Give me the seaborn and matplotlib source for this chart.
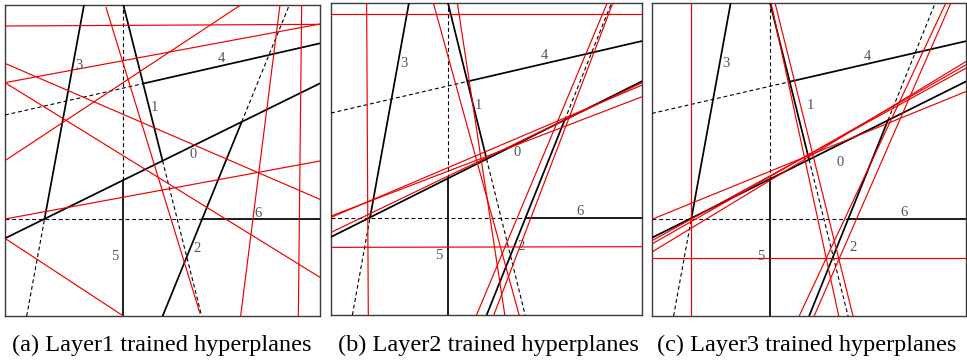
import numpy as np
import pandas as pd
import matplotlib
matplotlib.use("Agg")
import matplotlib.pyplot as plt
import seaborn as sns

# ---------------- data ----------------
captions = ["(a) Layer1 trained hyperplanes",
            "(b) Layer2 trained hyperplanes",
            "(c) Layer3 trained hyperplanes"]

# reference (black) hyperplanes in the normalised input square
ref_ids = ["0", "1", "2", "3", "4", "5", "6"]
ref_x0 = [0.0, 0.3757, 0.5005, 0.0688, 0.0, 0.3757, 0.0]
ref_y0 = [0.2497, 1.0, 0.0, 0.0, 0.6463, 0.0, 0.3108]
ref_x1 = [1.0, 0.6243, 0.9026, 0.2508, 1.0, 0.3757, 1.0]
ref_y1 = [0.7481, 0.0, 1.0, 1.0, 0.8767, 1.0, 0.3108]
ref_cut = [None, 0, 0, 6, 1, 0, 2]          # hyperplane that ends the active part
ref_active = ["all", "start", "start", "end", "end", "start", "end"]

# label positions per panel
lab_x = [[0.598, 0.473, 0.611, 0.235, 0.686, 0.347, 0.802],
         [0.598, 0.473, 0.611, 0.235, 0.686, 0.347, 0.802],
         [0.598, 0.505, 0.640, 0.235, 0.686, 0.347, 0.802]]
lab_y = [[0.520, 0.671, 0.218, 0.804, 0.829, 0.191, 0.330],
         [0.520, 0.671, 0.218, 0.804, 0.829, 0.191, 0.330],
         [0.491, 0.671, 0.218, 0.804, 0.829, 0.191, 0.330]]

# trained (red) hyperplanes, per layer
l1_x0 = [0.0, 0.0, 0.0, 0.0, 0.0, 0.0, 0.0, 0.3206, 0.873, 0.9418]
l1_y0 = [0.9325, 0.7503, 0.4995, 0.8124, 0.7503, 0.3119, 0.2497, 0.9925, 1.0, 1.0]
l1_x1 = [1.0, 1.0, 0.7481, 1.0, 1.0, 1.0, 0.3757, 0.6190, 0.7481, 0.9312]
l1_y1 = [0.9378, 0.9389, 1.0, 0.3751, 0.1243, 0.4984, 0.0, 0.0086, 0.0, 0.0]

l2_x0 = [-0.01, 0.0, 0.1146, 0.0, 0.0, -0.0064, 0.3287, 0.4069, 0.4679, 0.5236]
l2_y0 = [0.9648, 0.2164, 1.0, 0.3166, 0.3124, 0.2612, 1.0, 0.9947, 0.0, 0.0]
l2_x1 = [1.01, 1.0, 0.1199, 1.0, 1.0, 1.0, 0.6049, 0.5589, 0.8887, 0.9069]
l2_y1 = [0.9648, 0.2186, 0.0, 0.6983, 0.7356, 0.7431, 0.0, 0.0, 1.0, 1.0]

l3_x0 = [0.1249, 0.0, 0.3788, 0.3915, 0.4688, 0.5164, 0.0, 0.0, 0.0, 0.0]
l3_y0 = [1.0, 0.1862, 1.0, 1.0, 0.0, 0.0, 0.3085, 0.2043, 0.2298, 0.2404]
l3_x1 = [0.1249, 1.0, 0.5947, 0.6402, 0.9365, 0.9524, 1.0, 1.0, 1.0, 1.0]
l3_y1 = [0.0, 0.1862, 0.0, 0.0, 1.0, 1.0, 0.7160, 0.8117, 0.8011, 0.7904]

red_sets = [(l1_x0, l1_y0, l1_x1, l1_y1),
            (l2_x0, l2_y0, l2_x1, l2_y1),
            (l3_x0, l3_y0, l3_x1, l3_y1)]

# ---------------- helpers ----------------
def cut_param(i, j):
    p0 = np.array([ref_x0[i], ref_y0[i]]); p1 = np.array([ref_x1[i], ref_y1[i]])
    q0 = np.array([ref_x0[j], ref_y0[j]]); q1 = np.array([ref_x1[j], ref_y1[j]])
    d = p1 - p0; e = q1 - q0
    A = np.array([[d[0], -e[0]], [d[1], -e[1]]])
    t, s = np.linalg.solve(A, q0 - p0)
    return t

def segments_for(i):
    p0 = np.array([ref_x0[i], ref_y0[i]]); p1 = np.array([ref_x1[i], ref_y1[i]])
    if ref_cut[i] is None:
        return [(p0, p1, "solid")]
    t = cut_param(i, ref_cut[i])
    pm = p0 + t * (p1 - p0)
    if ref_active[i] == "start":
        return [(p0, pm, "solid"), (pm, p1, "dashed")]
    return [(p0, pm, "dashed"), (pm, p1, "solid")]

# ---------------- figure ----------------
sns.set_style("white")
plt.rcParams["font.family"] = ["Liberation Serif", "DejaVu Serif"]

W, H = 967, 360
fig = plt.figure(figsize=(W / 100, H / 100), dpi=100)
boxes = [(5, 5, 320, 316), (331, 2.5, 642, 315), (652, 2.5, 966, 316)]
cap_cx = [162, 488, 807]

for k in range(3):
    l, t, r, b = boxes[k]
    ax = fig.add_axes([l / W, 1 - b / H, (r - l) / W, (b - t) / H])
    ax.set_xlim(0, 1); ax.set_ylim(0, 1)
    ax.set_xticks([]); ax.set_yticks([])
    for sp in ax.spines.values():
        sp.set_color("#3a3a3a"); sp.set_linewidth(1.0); sp.set_visible(True)

    # black reference hyperplanes
    for i in range(len(ref_ids)):
        for a, c, kind in segments_for(i):
            df = pd.DataFrame({"x": [a[0], c[0]], "y": [a[1], c[1]]})
            if kind == "solid":
                sns.lineplot(data=df, x="x", y="y", ax=ax, color="black",
                             linewidth=1.25, sort=False, estimator=None, zorder=3)
            else:
                sns.lineplot(data=df, x="x", y="y", ax=ax, color="black",
                             linewidth=0.8, linestyle=(0, (3.5, 2.5)),
                             sort=False, estimator=None, zorder=3)
        ax.text(lab_x[k][i], lab_y[k][i], ref_ids[i], color="#555555",
                fontsize=10.5, ha="center", va="center", zorder=5)

    # red trained hyperplanes
    x0, y0, x1, y1 = red_sets[k]
    for j in range(len(x0)):
        df = pd.DataFrame({"x": [x0[j], x1[j]], "y": [y0[j], y1[j]]})
        sns.lineplot(data=df, x="x", y="y", ax=ax, color="#ee0000",
                     linewidth=0.85, sort=False, estimator=None, zorder=4)
    ax.set_xlabel(""); ax.set_ylabel("")
    ax.set_xlim(0, 1); ax.set_ylim(0, 1)

    fig.text(cap_cx[k] / W, 1 - 345 / H, captions[k], ha="center", va="center",
             fontsize=17.5, color="black")

fig.savefig("out.png", dpi=100)
